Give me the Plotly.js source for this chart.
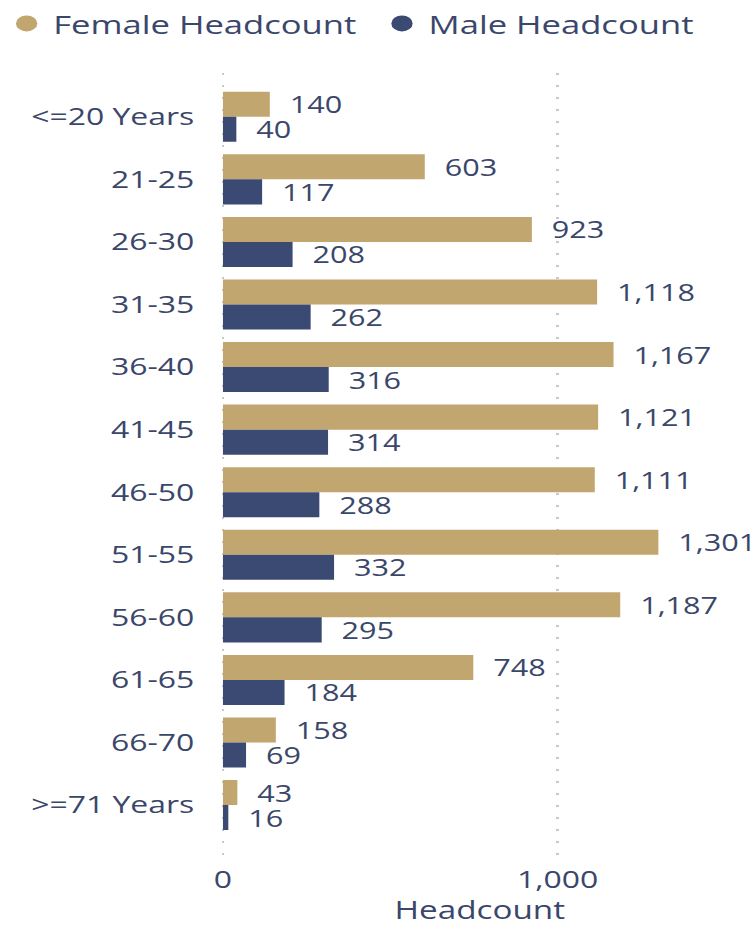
<!DOCTYPE html>
<html>
<head>
<meta charset="utf-8">
<script src="https://cdn.plot.ly/plotly-3.0.1.min.js"></script>
<style>
  html, body { margin: 0; padding: 0; background: #fff; overflow: hidden; }
  #wrap { width: 756px; height: 926px; overflow: hidden; }
  #chart { width: 568px; height: 926px; transform: scaleX(1.331); transform-origin: 0 0; }
</style>
</head>
<body>
<div id="wrap"><div id="chart"></div></div>
<script>
const categories = ["<=20 Years", "21-25", "26-30", "31-35", "36-40", "41-45", "46-50", "51-55", "56-60", "61-65", "66-70", ">=71 Years"];
const femaleHeadcount = [140, 603, 923, 1118, 1167, 1121, 1111, 1301, 1187, 748, 158, 43];
const maleHeadcount = [40, 117, 208, 262, 316, 314, 288, 332, 295, 184, 69, 16];
const xTickValues = [0, 1000];
const xTickLabels = ["0", "1,000"];

const FEMALE = "#C2A670";
const MALE = "#3A4A73";
const TEXT = "#3A476A";
const FONT = "'Segoe UI', 'Open Sans', sans-serif";

const barCommon = {
  type: "bar",
  orientation: "h",
  y: categories,
  textposition: "outside",
  constraintext: "none",
  cliponaxis: false,
  textfont: { family: FONT, size: 23, color: TEXT },
  showlegend: false,
  hoverinfo: "skip"
};

const traces = [
  Object.assign({}, barCommon, {
    name: "Female Headcount",
    x: femaleHeadcount,
    texttemplate: "\u00a0\u00a0%{x:,}",
    marker: { color: FEMALE }
  }),
  Object.assign({}, barCommon, {
    name: "Male Headcount",
    x: maleHeadcount,
    texttemplate: "\u00a0\u00a0%{x:,}",
    marker: { color: MALE }
  }),
  {
    type: "scatter", mode: "markers", name: "Female Headcount",
    x: [null], y: [null], showlegend: true, legend: "legend",
    marker: { color: FEMALE, size: 20, symbol: "circle" }
  },
  {
    type: "scatter", mode: "markers", name: "Male Headcount",
    x: [null], y: [null], showlegend: true, legend: "legend2",
    marker: { color: MALE, size: 20, symbol: "circle" }
  }
];

const legendCommon = {
  orientation: "h",
  xref: "container", yref: "container",
  y: 1, xanchor: "left", yanchor: "top",
  font: { family: FONT, size: 26, color: TEXT },
  itemclick: false, itemdoubleclick: false,
  bgcolor: "rgba(0,0,0,0)"
};

const layout = {
  width: 568,
  height: 926,
  margin: { l: 165, r: 12, t: 73, b: 69, pad: 0, autoexpand: false },
  paper_bgcolor: "#ffffff",
  plot_bgcolor: "#ffffff",
  font: { family: FONT, color: TEXT, size: 24 },
  barmode: "group",
  bargap: 0.2,
  bargroupgap: 0,
  showlegend: true,
  legend: Object.assign({}, legendCommon, { x: 0 }),
  legend2: Object.assign({}, legendCommon, { x: 0.4965 }),
  xaxis: {
    range: [-10, 1545],
    tickvals: xTickValues,
    ticktext: xTickLabels,
    showgrid: true,
    gridcolor: "#c8c8c8",
    griddash: "2px,10px",
    gridwidth: 2,
    zeroline: false,
    showline: false,
    ticks: "",
    ticklabelstandoff: 6,
    tickfont: { family: FONT, size: 24, color: TEXT },
    title: { text: "Headcount", font: { family: FONT, size: 25, color: TEXT }, standoff: 4 },
    fixedrange: true
  },
  yaxis: {
    type: "category",
    categoryorder: "array",
    categoryarray: categories,
    range: [11.83, -0.70],
    showgrid: false,
    zeroline: false,
    showline: false,
    ticks: "",
    ticklabelstandoff: 18,
    tickfont: { family: FONT, size: 24, color: TEXT },
    fixedrange: true
  }
};

Plotly.newPlot("chart", traces, layout, { displayModeBar: false, staticPlot: true });
</script>
</body>
</html>
